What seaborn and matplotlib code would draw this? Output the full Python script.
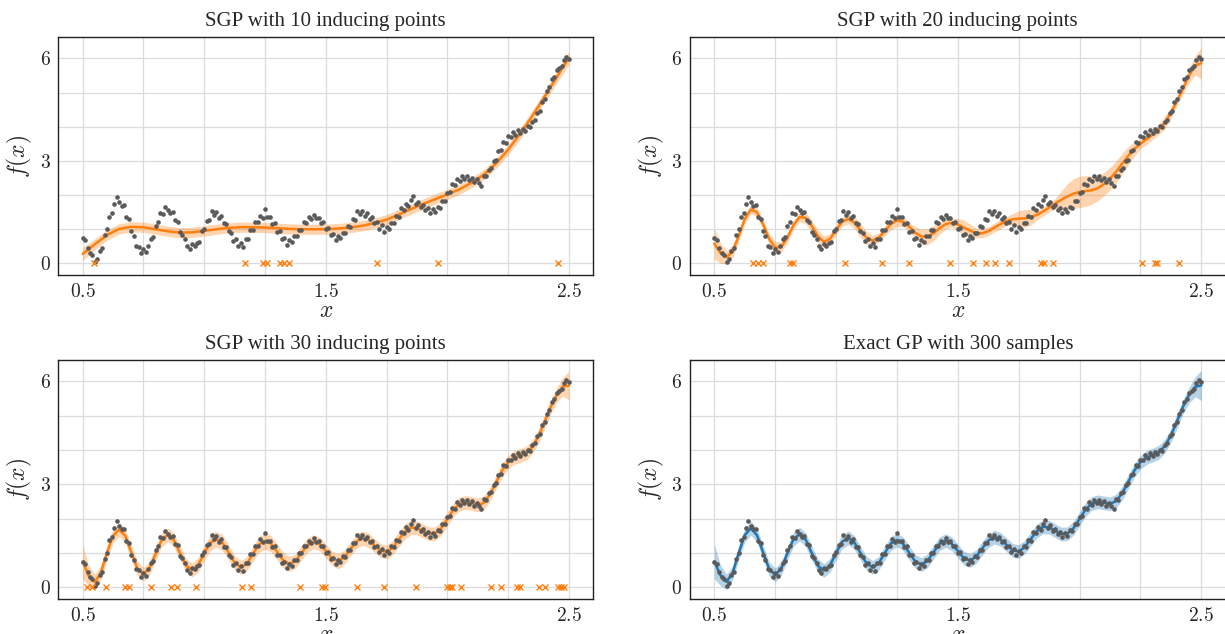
import numpy as np
import pandas as pd
import matplotlib
matplotlib.use("Agg")
import matplotlib.pyplot as plt
import seaborn as sns
from matplotlib.ticker import MultipleLocator

# ---------------- data ----------------
x_data = [
    0.50, 0.51, 0.52, 0.53, 0.54, 0.55, 0.56, 0.57, 0.58, 0.59,
    0.60, 0.61, 0.62, 0.63, 0.64, 0.65, 0.66, 0.67, 0.68, 0.69,
    0.70, 0.71, 0.72, 0.73, 0.74, 0.75, 0.76, 0.77, 0.78, 0.79,
    0.80, 0.81, 0.82, 0.83, 0.84, 0.85, 0.86, 0.87, 0.88, 0.89,
    0.90, 0.91, 0.92, 0.93, 0.94, 0.95, 0.96, 0.97, 0.98, 0.99,
    1.00, 1.01, 1.02, 1.03, 1.04, 1.05, 1.06, 1.07, 1.08, 1.09,
    1.10, 1.11, 1.12, 1.13, 1.14, 1.15, 1.16, 1.17, 1.18, 1.19,
    1.20, 1.21, 1.22, 1.23, 1.24, 1.25, 1.26, 1.27, 1.28, 1.29,
    1.30, 1.31, 1.32, 1.33, 1.34, 1.35, 1.36, 1.37, 1.38, 1.39,
    1.40, 1.41, 1.42, 1.43, 1.44, 1.45, 1.46, 1.47, 1.48, 1.49,
    1.50, 1.51, 1.52, 1.53, 1.54, 1.55, 1.56, 1.57, 1.58, 1.59,
    1.60, 1.61, 1.62, 1.63, 1.64, 1.65, 1.66, 1.67, 1.68, 1.69,
    1.70, 1.71, 1.72, 1.73, 1.74, 1.75, 1.76, 1.77, 1.78, 1.79,
    1.80, 1.81, 1.82, 1.83, 1.84, 1.85, 1.86, 1.87, 1.88, 1.89,
    1.90, 1.91, 1.92, 1.93, 1.94, 1.95, 1.96, 1.97, 1.98, 1.99,
    2.00, 2.01, 2.02, 2.03, 2.04, 2.05, 2.06, 2.07, 2.08, 2.09,
    2.10, 2.11, 2.12, 2.13, 2.14, 2.15, 2.16, 2.17, 2.18, 2.19,
    2.20, 2.21, 2.22, 2.23, 2.24, 2.25, 2.26, 2.27, 2.28, 2.29,
    2.30, 2.31, 2.32, 2.33, 2.34, 2.35, 2.36, 2.37, 2.38, 2.39,
    2.40, 2.41, 2.42, 2.43, 2.44, 2.45, 2.46, 2.47, 2.48, 2.49,
    2.50,
]
y_data = [
    0.74, 0.68, 0.45, 0.31, 0.24, 0.03, 0.14, 0.36, 0.45, 0.83,
    1.00, 1.37, 1.47, 1.74, 1.93, 1.80, 1.69, 1.70, 1.36, 1.30,
    0.95, 0.80, 0.52, 0.49, 0.29, 0.41, 0.33, 0.52, 0.70, 0.78,
    1.09, 1.20, 1.48, 1.44, 1.64, 1.55, 1.47, 1.50, 1.27, 1.22,
    0.92, 0.84, 0.72, 0.50, 0.41, 0.56, 0.52, 0.61, 0.64, 0.95,
    1.02, 1.24, 1.26, 1.52, 1.42, 1.50, 1.33, 1.40, 1.18, 1.16,
    0.95, 0.88, 0.65, 0.70, 0.50, 0.61, 0.48, 0.70, 0.70, 0.97,
    0.98, 1.21, 1.20, 1.40, 1.33, 1.58, 1.35, 1.36, 1.16, 1.19,
    0.93, 0.95, 0.72, 0.75, 0.55, 0.69, 0.63, 0.80, 0.79, 0.99,
    0.99, 1.20, 1.19, 1.36, 1.30, 1.43, 1.32, 1.34, 1.19, 1.21,
    1.01, 1.03, 0.82, 0.86, 0.68, 0.80, 0.74, 0.90, 0.88, 1.09,
    1.08, 1.29, 1.28, 1.52, 1.44, 1.52, 1.40, 1.47, 1.31, 1.36,
    1.17, 1.21, 1.02, 1.11, 0.93, 1.06, 1.00, 1.19, 1.17, 1.39,
    1.36, 1.62, 1.57, 1.75, 1.68, 1.85, 1.96, 1.73, 1.81, 1.64,
    1.70, 1.56, 1.62, 1.47, 1.58, 1.50, 1.66, 1.63, 1.84, 1.83,
    2.06, 2.08, 2.31, 2.29, 2.48, 2.41, 2.55, 2.46, 2.55, 2.43,
    2.50, 2.38, 2.47, 2.36, 2.27, 2.56, 2.55, 2.74, 2.78, 2.99,
    3.03, 3.28, 3.31, 3.55, 3.53, 3.72, 3.70, 3.86, 3.77, 3.90,
    3.82, 3.93, 3.87, 4.01, 3.98, 4.14, 4.19, 4.40, 4.47, 4.72,
    4.80, 5.06, 5.16, 5.40, 5.47, 5.67, 5.72, 5.79, 5.96, 6.04,
    5.99,
]

# coarse grid for the 10-inducing-point model
x_grid10 = [
    0.50, 0.55, 0.60, 0.65, 0.70, 0.75, 0.80, 0.85, 0.90, 0.95,
    1.00, 1.05, 1.10, 1.15, 1.20, 1.25, 1.30, 1.35, 1.40, 1.45,
    1.50, 1.55, 1.60, 1.65, 1.70, 1.75, 1.80, 1.85, 1.90, 1.95,
    2.00, 2.05, 2.10, 2.15, 2.20, 2.25, 2.30, 2.35, 2.40, 2.45,
    2.50,
]
mean_sgp10 = [
    0.28, 0.56, 0.83, 1.01, 1.07, 1.06, 1.00, 0.94, 0.90, 0.91,
    0.95, 1.00, 1.04, 1.06, 1.06, 1.05, 1.03, 1.01, 1.00, 1.00,
    1.00, 1.02, 1.05, 1.10, 1.18, 1.28, 1.43, 1.59, 1.74, 1.88,
    2.02, 2.17, 2.36, 2.60, 2.92, 3.33, 3.80, 4.32, 4.88, 5.45,
    6.02,
]
std_sgp10 = [
    0.19, 0.16, 0.15, 0.15, 0.15, 0.15, 0.15, 0.15, 0.15, 0.15,
    0.15, 0.15, 0.15, 0.15, 0.15, 0.15, 0.15, 0.15, 0.15, 0.15,
    0.15, 0.15, 0.15, 0.15, 0.15, 0.15, 0.15, 0.15, 0.15, 0.15,
    0.15, 0.15, 0.15, 0.15, 0.15, 0.15, 0.16, 0.16, 0.16, 0.17,
    0.20,
]

# fine grid for the other models
x_grid = [
    0.500, 0.525, 0.550, 0.575, 0.600, 0.625, 0.650, 0.675, 0.700, 0.725,
    0.750, 0.775, 0.800, 0.825, 0.850, 0.875, 0.900, 0.925, 0.950, 0.975,
    1.000, 1.025, 1.050, 1.075, 1.100, 1.125, 1.150, 1.175, 1.200, 1.225,
    1.250, 1.275, 1.300, 1.325, 1.350, 1.375, 1.400, 1.425, 1.450, 1.475,
    1.500, 1.525, 1.550, 1.575, 1.600, 1.625, 1.650, 1.675, 1.700, 1.725,
    1.750, 1.775, 1.800, 1.825, 1.850, 1.875, 1.900, 1.925, 1.950, 1.975,
    2.000, 2.025, 2.050, 2.075, 2.100, 2.125, 2.150, 2.175, 2.200, 2.225,
    2.250, 2.275, 2.300, 2.325, 2.350, 2.375, 2.400, 2.425, 2.450, 2.475,
    2.500,
]
mean_sgp20 = [
    0.58, 0.30, 0.18, 0.35, 0.80, 1.30, 1.58, 1.50, 1.15, 0.72,
    0.46, 0.48, 0.75, 1.12, 1.36, 1.33, 1.10, 0.80, 0.63, 0.72,
    0.98, 1.22, 1.30, 1.20, 0.97, 0.75, 0.67, 0.75, 0.95, 1.15,
    1.26, 1.22, 1.08, 0.90, 0.79, 0.78, 0.88, 1.03, 1.15, 1.19,
    1.14, 1.05, 0.96, 0.89, 0.88, 0.94, 1.05, 1.15, 1.24, 1.29,
    1.31, 1.32, 1.35, 1.42, 1.52, 1.63, 1.75, 1.86, 1.96, 2.04,
    2.09, 2.12, 2.14, 2.20, 2.32, 2.48, 2.68, 2.92, 3.15, 3.35,
    3.50, 3.64, 3.77, 3.92, 4.12, 4.40, 4.75, 5.12, 5.50, 5.80,
    5.86,
]
std_sgp20 = [
    0.45, 0.30, 0.20, 0.18, 0.16, 0.14, 0.13, 0.13, 0.13, 0.16,
    0.18, 0.16, 0.14, 0.13, 0.14, 0.17, 0.18, 0.18, 0.17, 0.15,
    0.14, 0.13, 0.14, 0.18, 0.21, 0.19, 0.15, 0.13, 0.14, 0.17,
    0.18, 0.15, 0.13, 0.17, 0.21, 0.23, 0.22, 0.18, 0.14, 0.13,
    0.17, 0.22, 0.19, 0.14, 0.13, 0.13, 0.13, 0.15, 0.13, 0.16,
    0.23, 0.26, 0.23, 0.15, 0.13, 0.13, 0.15, 0.26, 0.37, 0.44,
    0.46, 0.45, 0.41, 0.37, 0.34, 0.33, 0.32, 0.30, 0.27, 0.21,
    0.15, 0.16, 0.14, 0.15, 0.19, 0.17, 0.13, 0.16, 0.21, 0.28,
    0.46,
]
mean_sgp30 = [
    0.75, 0.33, 0.15, 0.43, 1.01, 1.50, 1.68, 1.50, 1.02, 0.55,
    0.38, 0.56, 0.98, 1.38, 1.53, 1.38, 1.00, 0.64, 0.50, 0.65,
    1.00, 1.30, 1.40, 1.30, 1.02, 0.72, 0.58, 0.68, 0.97, 1.25,
    1.35, 1.27, 1.03, 0.79, 0.68, 0.76, 1.00, 1.23, 1.33, 1.26,
    1.06, 0.85, 0.76, 0.86, 1.10, 1.33, 1.43, 1.38, 1.22, 1.07,
    1.03, 1.15, 1.39, 1.62, 1.74, 1.73, 1.64, 1.56, 1.56, 1.72,
    1.99, 2.26, 2.43, 2.47, 2.44, 2.40, 2.46, 2.70, 3.05, 3.40,
    3.64, 3.78, 3.84, 3.91, 4.09, 4.40, 4.82, 5.25, 5.60, 5.85,
    5.87,
]
std_sgp30 = [
    0.50, 0.30, 0.23, 0.21, 0.20, 0.20, 0.20, 0.20, 0.20, 0.20,
    0.20, 0.20, 0.20, 0.20, 0.20, 0.20, 0.20, 0.20, 0.20, 0.21,
    0.22, 0.23, 0.23, 0.23, 0.22, 0.21, 0.20, 0.21, 0.22, 0.23,
    0.24, 0.24, 0.24, 0.23, 0.22, 0.21, 0.21, 0.21, 0.20, 0.20,
    0.20, 0.21, 0.22, 0.21, 0.20, 0.20, 0.21, 0.21, 0.20, 0.20,
    0.20, 0.21, 0.22, 0.22, 0.21, 0.20, 0.20, 0.20, 0.20, 0.20,
    0.20, 0.20, 0.20, 0.20, 0.20, 0.20, 0.20, 0.20, 0.20, 0.20,
    0.20, 0.20, 0.20, 0.20, 0.20, 0.20, 0.21, 0.21, 0.22, 0.27,
    0.42,
]
mean_exact = [
    0.75, 0.35, 0.16, 0.42, 1.00, 1.52, 1.72, 1.52, 1.02, 0.54,
    0.36, 0.55, 0.99, 1.40, 1.55, 1.39, 1.00, 0.63, 0.49, 0.64,
    1.00, 1.33, 1.44, 1.31, 1.00, 0.70, 0.58, 0.70, 1.00, 1.28,
    1.38, 1.27, 1.01, 0.76, 0.66, 0.77, 1.02, 1.27, 1.36, 1.27,
    1.06, 0.85, 0.78, 0.89, 1.13, 1.36, 1.46, 1.40, 1.24, 1.08,
    1.04, 1.17, 1.41, 1.64, 1.76, 1.75, 1.65, 1.55, 1.56, 1.72,
    1.99, 2.27, 2.44, 2.49, 2.46, 2.43, 2.51, 2.74, 3.07, 3.40,
    3.64, 3.78, 3.85, 3.93, 4.11, 4.42, 4.83, 5.26, 5.60, 5.84,
    5.88,
]
std_exact = [
    0.50, 0.30, 0.22, 0.20, 0.20, 0.20, 0.20, 0.20, 0.20, 0.20,
    0.20, 0.20, 0.20, 0.20, 0.20, 0.20, 0.20, 0.20, 0.20, 0.20,
    0.20, 0.20, 0.20, 0.20, 0.20, 0.20, 0.20, 0.20, 0.20, 0.20,
    0.20, 0.20, 0.20, 0.20, 0.20, 0.20, 0.20, 0.20, 0.20, 0.20,
    0.20, 0.20, 0.20, 0.20, 0.20, 0.20, 0.20, 0.20, 0.20, 0.20,
    0.20, 0.20, 0.20, 0.20, 0.20, 0.20, 0.20, 0.20, 0.20, 0.20,
    0.20, 0.20, 0.20, 0.20, 0.20, 0.20, 0.20, 0.20, 0.20, 0.20,
    0.20, 0.20, 0.20, 0.20, 0.20, 0.20, 0.21, 0.21, 0.23, 0.29,
    0.44,
]

inducing_10 = [0.545, 1.169, 1.242, 1.257, 1.31, 1.33, 1.35, 1.71, 1.96, 2.457]
inducing_20 = [0.66, 0.68, 0.70, 0.81, 0.825, 1.035, 1.19, 1.30, 1.468, 1.564,
               1.615, 1.654, 1.712, 1.843, 1.853, 1.893, 2.256, 2.308, 2.317, 2.407]
inducing_30 = [0.516, 0.538, 0.596, 0.673, 0.689, 0.78, 0.865, 0.889, 0.964, 1.156,
               1.193, 1.393, 1.486, 1.497, 1.63, 1.74, 1.873, 1.998, 2.009, 2.02,
               2.057, 2.18, 2.222, 2.286, 2.297, 2.377, 2.401, 2.457, 2.468, 2.478]

titles = ["SGP with 10 inducing points", "SGP with 20 inducing points",
          "SGP with 30 inducing points", "Exact GP with 300 samples"]
x_ticks = [0.5, 1.5, 2.5]
x_tick_labels = ["$0.5$", "$1.5$", "$2.5$"]
y_ticks = [0, 3, 6]
y_tick_labels = ["$0$", "$3$", "$6$"]

# ---------------- style ----------------
sns.set_theme(style="white")
plt.rcParams["font.family"] = ["Liberation Serif", "DejaVu Serif"]
plt.rcParams["mathtext.fontset"] = "cm"

ORANGE = "#ff7f0e"
BLUE = "#1f77b4"
GREY = "#5a5a5a"

fig = plt.figure(figsize=(12.25, 6.34), dpi=100)

W, H = 1225.0, 634.0
def rect(l, t, r, b):
    return [l / W, 1 - b / H, (r - l) / W, (b - t) / H]

rects = [rect(58.4, 37.3, 593.2, 275.0), rect(690.0, 37.3, 1225.6, 275.0),
         rect(58.4, 360.0, 593.2, 599.0), rect(690.0, 360.0, 1225.6, 599.0)]

panels = [
    (x_grid10, mean_sgp10, std_sgp10, inducing_10, ORANGE),
    (x_grid, mean_sgp20, std_sgp20, inducing_20, ORANGE),
    (x_grid, mean_sgp30, std_sgp30, inducing_30, ORANGE),
    (x_grid, mean_exact, std_exact, None, BLUE),
]

pts = pd.DataFrame({"x": x_data, "y": y_data})

for i, (xg, mu, sd, ind, col) in enumerate(panels):
    ax = fig.add_axes(rects[i])
    df = pd.DataFrame({"x": xg, "mean": mu, "std": sd})
    ax.fill_between(df["x"], df["mean"] - df["std"], df["mean"] + df["std"],
                    color=col, alpha=0.33, lw=0, zorder=2)
    sns.lineplot(data=df, x="x", y="mean", color=col, lw=1.8, ax=ax,
                 estimator=None, sort=False, zorder=3)
    sns.scatterplot(data=pts, x="x", y="y", color=GREY, s=11, linewidth=0,
                    ax=ax, zorder=4)
    if ind is not None:
        ax.plot(ind, [0.0] * len(ind), linestyle="none", marker="x",
                color=col, ms=4.3, mew=1.0, zorder=5)

    ax.set_xlim(0.4, 2.6)
    ax.set_ylim(-0.34, 6.62)
    ax.set_xticks(x_ticks, labels=x_tick_labels)
    ax.set_yticks(y_ticks, labels=y_tick_labels)
    ax.xaxis.set_minor_locator(MultipleLocator(0.25))
    ax.yaxis.set_minor_locator(MultipleLocator(1.0))
    ax.grid(which="both", color="#dcdcdc", lw=0.9, zorder=0)
    ax.set_axisbelow(True)
    ax.tick_params(which="minor", length=0)
    ax.tick_params(which="major", length=3.5, width=0.8, direction="out",
                   labelsize=14, color="#333333", pad=2)
    for sp in ax.spines.values():
        sp.set_visible(True)
        sp.set_color("#222222")
        sp.set_linewidth(1.0)
    ax.set_title(titles[i], fontsize=15, pad=8)
    ax.set_xlabel("$x$", fontsize=17, labelpad=0)
    ax.set_ylabel("$f(x)$", fontsize=17, labelpad=4)

fig.savefig("out.png", dpi=100)
